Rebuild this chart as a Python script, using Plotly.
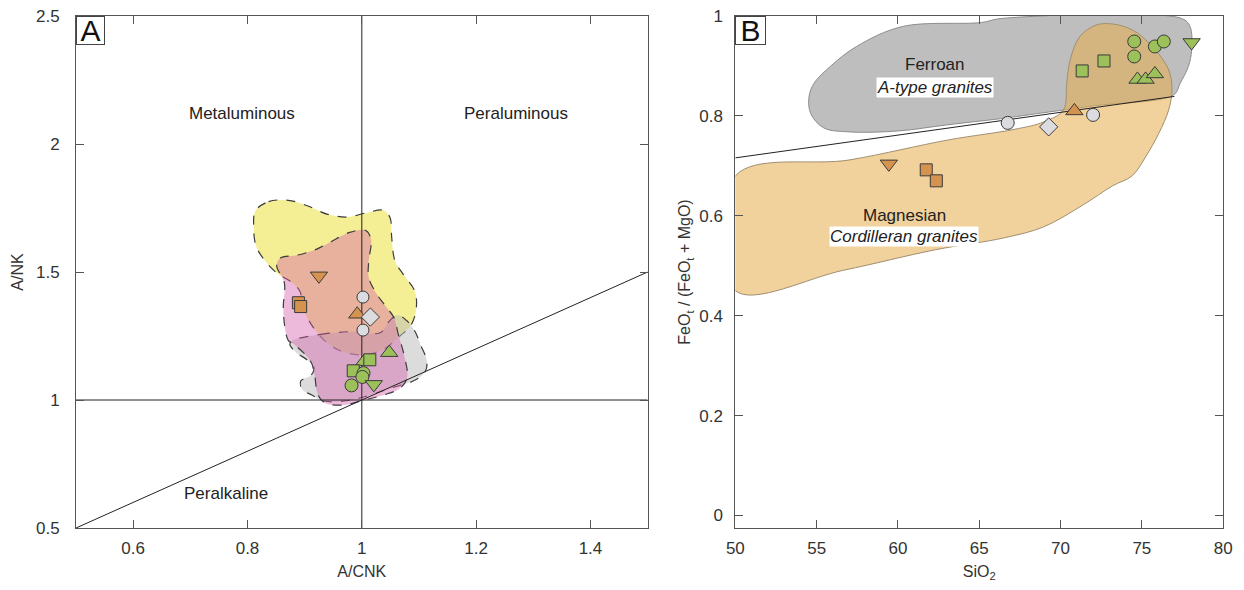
import plotly.graph_objects as go

# ---------------- Panel A data (A/CNK vs A/NK) ----------------
yellow_x = [0.8138, 0.8368, 0.8713, 0.9057, 0.9402, 0.9747, 1.0092, 1.0379, 1.0494, 1.0523, 1.0580, 1.0724, 1.0925, 1.0954,
            1.0868, 1.0667, 1.0379, 1.0034, 0.9632, 0.9345, 0.9115, 0.8971, 0.8914, 0.8741, 0.8540, 0.8310, 0.8149, 0.8109]
yellow_y = [1.7383, 1.7748, 1.7800, 1.7578, 1.7253, 1.7149, 1.7318, 1.7409, 1.7123, 1.6341, 1.5430, 1.4909, 1.4258, 1.3607,
            1.2956, 1.2500, 1.1979, 1.1758, 1.1914, 1.2331, 1.2956, 1.3607, 1.4258, 1.4649, 1.4909, 1.5430, 1.6016, 1.6732]
pink_x = [0.8511, 0.8569, 0.8885, 0.9201, 0.9460, 0.9776, 1.0063, 1.0161, 1.0121, 1.0121, 1.0264, 1.0437, 1.0563, 1.0638, 1.0736,
          1.0793, 1.0667, 1.0379, 0.9977, 0.9690, 0.9345, 0.9230, 0.9172, 0.9103, 0.8827, 0.8713, 0.8655, 0.8626, 0.8644]
pink_y = [1.5235, 1.5534, 1.5664, 1.5885, 1.6185, 1.6537, 1.6628, 1.6276, 1.5430, 1.4779, 1.4128, 1.3607, 1.3216, 1.2565, 1.1784,
          1.0872, 1.0456, 1.0195, 0.9961, 0.9805, 0.9896, 1.0221, 1.1003, 1.1523, 1.2148, 1.2331, 1.2826, 1.3607, 1.4584]
grey_x = [0.8799, 0.9287, 0.9804, 1.0322, 1.0483, 1.0621, 1.0793, 1.0942, 1.1023, 1.1138, 1.1109, 1.0925, 1.0494, 1.0034,
          0.9690, 0.9333, 0.9126, 0.8954, 0.8931, 0.9115, 0.9161, 0.9029, 0.8856, 0.8741]
grey_y = [1.2331, 1.2565, 1.2669, 1.2630, 1.3086, 1.3320, 1.3086, 1.2630, 1.2175, 1.1523, 1.1107, 1.0768, 1.0456, 1.0117,
          0.9961, 0.9961, 1.0195, 1.0417, 1.0742, 1.0977, 1.1263, 1.1589, 1.1849, 1.2175]

A_orange_tridown_x = [0.925]
A_orange_tridown_y = [1.485]
A_orange_square_x = [0.889, 0.893]
A_orange_square_y = [1.380, 1.365]
A_orange_triup_x = [0.992]
A_orange_triup_y = [1.335]
A_grey_circle_x = [1.002, 1.002]
A_grey_circle_y = [1.402, 1.273]
A_grey_diamond_x = [1.015]
A_grey_diamond_y = [1.324]
A_green_triup_x = [1.048, 1.004]
A_green_triup_y = [1.185, 1.150]
A_green_square_x = [0.985, 1.014]
A_green_square_y = [1.114, 1.157]
A_green_circle_x = [1.003, 1.001, 0.982]
A_green_circle_y = [1.105, 1.090, 1.057]
A_green_tridown_x = [1.021]
A_green_tridown_y = [1.061]

# ---------------- Panel B data (SiO2 vs FeOt/(FeOt+MgO)) ----------------
ferroan_x = [54.53, 54.83, 55.84, 57.45, 60.28, 65.13, 66.35, 77.45, 77.96, 78.06, 77.86, 77.35, 76.95, 72.0, 68.0, 66.7,
             63.0, 60.06, 57.03, 55.44, 54.63]
ferroan_y = [0.838, 0.865, 0.899, 0.939, 0.979, 0.987, 0.995, 0.995, 0.979, 0.932, 0.899, 0.865, 0.842, 0.820, 0.802, 0.796,
             0.782, 0.770, 0.768, 0.776, 0.805]
magnesian_x = [50.0, 57.05, 63.11, 67.15, 68.97, 70.18, 70.38, 70.59, 71.19, 72.2, 73.2, 74.42, 75.64, 76.65, 76.85, 76.65,
               76.04, 75.23, 74.4, 73.2, 71.39, 68.97, 66.55, 62.3, 56.65, 50.0]
magnesian_y = [0.680, 0.712, 0.752, 0.773, 0.788, 0.812, 0.865, 0.912, 0.959, 0.982, 0.984, 0.972, 0.939, 0.892, 0.852, 0.812,
               0.765, 0.718, 0.680, 0.660, 0.622, 0.578, 0.556, 0.532, 0.491, 0.450]
boundary_x = [50, 77]
boundary_y = [0.716, 0.839]

B_green_circle_x = [74.53, 75.80, 76.35, 74.53]
B_green_circle_y = [0.949, 0.939, 0.949, 0.919]
B_green_tridown_x = [78.06]
B_green_tridown_y = [0.947]
B_green_square_x = [72.67, 71.33]
B_green_square_y = [0.910, 0.890]
B_green_triup_x = [74.73, 75.23, 75.80]
B_green_triup_y = [0.873, 0.873, 0.884]
B_orange_triup_x = [70.85]
B_orange_triup_y = [0.810]
B_orange_tridown_x = [59.44]
B_orange_tridown_y = [0.704]
B_orange_square_x = [61.74, 62.36]
B_orange_square_y = [0.692, 0.670]
B_grey_circle_x = [72.0, 66.75]
B_grey_circle_y = [0.802, 0.786]
B_grey_diamond_x = [69.27]
B_grey_diamond_y = [0.778]

A_xticks = [0.6, 0.8, 1.0, 1.2, 1.4]
A_xticklabels = ["0.6", "0.8", "1", "1.2", "1.4"]
A_yticks = [0.5, 1.0, 1.5, 2.0, 2.5]
A_yticklabels = ["0.5", "1", "1.5", "2", "2.5"]
B_xticks = [50, 55, 60, 65, 70, 75, 80]
B_yticks = [0, 0.2, 0.4, 0.6, 0.8, 1.0]
B_yticklabels = ["0", "0.2", "0.4", "0.6", "0.8", "1"]

ORANGE = "#d69350"
GREEN = "#9cc05a"
LGREY = "#dcdce0"
EDGE = "#3a3a3a"
FONT = "Liberation Sans, Arial, sans-serif"

fig = go.Figure()

def region(x, y, fill, xa, ya, dash="dash", lc="#3c3c3c", lw=1.2, shape="spline"):
    fig.add_trace(go.Scatter(x=x + [x[0]], y=y + [y[0]], mode="lines", fill="toself", fillcolor=fill,
                             line=dict(color=lc, width=lw, dash=dash, shape=shape, smoothing=1.0),
                             xaxis=xa, yaxis=ya, hoverinfo="skip", showlegend=False))

def markers(x, y, sym, color, xa, ya, size=12):
    fig.add_trace(go.Scatter(x=x, y=y, mode="markers",
                             marker=dict(symbol=sym, size=size, color=color, line=dict(color=EDGE, width=1)),
                             xaxis=xa, yaxis=ya, showlegend=False))

def line(x, y, xa, ya, color="#222", width=1):
    fig.add_trace(go.Scatter(x=x, y=y, mode="lines", line=dict(color=color, width=width),
                             xaxis=xa, yaxis=ya, hoverinfo="skip", showlegend=False))

# Panel A
region(yellow_x, yellow_y, "rgba(235,225,60,0.55)", "x", "y")
region(grey_x, grey_y, "rgba(185,185,185,0.5)", "x", "y")
region(pink_x, pink_y, "rgba(215,90,170,0.42)", "x", "y")
line([1, 1], [0.5, 2.5], "x", "y")
line([0.5, 1.5], [1, 1], "x", "y")
line([0.5, 1.5], [0.5, 1.5], "x", "y")
markers(A_orange_tridown_x, A_orange_tridown_y, "triangle-down", ORANGE, "x", "y", 15)
markers(A_orange_square_x, A_orange_square_y, "square", ORANGE, "x", "y", 12)
markers(A_orange_triup_x, A_orange_triup_y, "triangle-up", ORANGE, "x", "y", 15)
markers(A_grey_circle_x, A_grey_circle_y, "circle", LGREY, "x", "y", 12)
markers(A_grey_diamond_x, A_grey_diamond_y, "diamond", LGREY, "x", "y", 14)
markers(A_green_triup_x, A_green_triup_y, "triangle-up", GREEN, "x", "y", 15)
markers(A_green_square_x, A_green_square_y, "square", GREEN, "x", "y", 12)
markers(A_green_circle_x, A_green_circle_y, "circle", GREEN, "x", "y", 13)
markers(A_green_tridown_x, A_green_tridown_y, "triangle-down", GREEN, "x", "y", 15)

# Panel B
region(ferroan_x, ferroan_y, "rgb(190,190,190)", "x2", "y2", dash="solid", lc="#8c8c8c", lw=1)
region(magnesian_x, magnesian_y, "rgba(230,172,75,0.55)", "x2", "y2", dash="solid", lc="#a08f70", lw=1)
line(boundary_x, boundary_y, "x2", "y2")
markers(B_green_circle_x, B_green_circle_y, "circle", GREEN, "x2", "y2", 13)
markers(B_green_tridown_x, B_green_tridown_y, "triangle-down", GREEN, "x2", "y2", 15)
markers(B_green_square_x, B_green_square_y, "square", GREEN, "x2", "y2", 12)
markers(B_green_triup_x, B_green_triup_y, "triangle-up", GREEN, "x2", "y2", 15)
markers(B_orange_triup_x, B_orange_triup_y, "triangle-up", ORANGE, "x2", "y2", 15)
markers(B_orange_tridown_x, B_orange_tridown_y, "triangle-down", ORANGE, "x2", "y2", 15)
markers(B_orange_square_x, B_orange_square_y, "square", ORANGE, "x2", "y2", 12)
markers(B_grey_circle_x, B_grey_circle_y, "circle", LGREY, "x2", "y2", 13)
markers(B_grey_diamond_x, B_grey_diamond_y, "diamond", LGREY, "x2", "y2", 14)

W = 1244.0
axis_common = dict(showgrid=False, zeroline=False, showline=True, linecolor="#555", linewidth=1, mirror="ticks",
                   ticks="inside", ticklen=8, tickcolor="#555", tickfont=dict(family=FONT, size=17, color="#333"))

fig.update_layout(
    width=1244, height=590, plot_bgcolor="white", paper_bgcolor="white",
    margin=dict(l=0, r=0, t=16, b=62), showlegend=False,
    font=dict(family=FONT, color="#222"),
    xaxis=dict(domain=[68 / W, 648 / W], range=[0.5, 1.5], tickvals=A_xticks, ticktext=A_xticklabels,
               ticklabelstandoff=5,
               title=dict(text="A/CNK", font=dict(size=16, color="#333"), standoff=8), **axis_common),
    yaxis=dict(domain=[0, 1], range=[0.5, 2.5], tickvals=A_yticks, ticktext=A_yticklabels,
               ticklabelstandoff=12,
               title=dict(text="A/NK", font=dict(size=16, color="#333"), standoff=8), **axis_common),
    xaxis2=dict(domain=[737 / W, 1232 / W], range=[50, 80], tickvals=B_xticks, anchor="y2",
                ticklabelstandoff=5,
                title=dict(text="SiO<sub>2</sub>", font=dict(size=16, color="#333"), standoff=8), **axis_common),
    yaxis2=dict(domain=[0, 1], range=[-0.025, 1.0], tickvals=B_yticks, ticktext=B_yticklabels, anchor="x2",
                ticklabelstandoff=8,
                title=dict(text="FeO<sub>t</sub> / (FeO<sub>t</sub> + MgO)", font=dict(size=16, color="#333"), standoff=4),
                **axis_common),
)

ann = [
    dict(text="Metaluminous", x=0.79, y=2.12, xref="x", yref="y", font=dict(size=17)),
    dict(text="Peraluminous", x=1.27, y=2.12, xref="x", yref="y", font=dict(size=17)),
    dict(text="Peralkaline", x=0.762, y=0.633, xref="x", yref="y", font=dict(size=17)),
    dict(text="Ferroan", x=62.3, y=0.902, xref="x2", yref="y2", font=dict(size=17)),
    dict(text="<i>A-type granites</i>", x=62.3, y=0.856, xref="x2", yref="y2", font=dict(size=17),
         bgcolor="white", borderpad=0),
    dict(text="Magnesian", x=60.4, y=0.600, xref="x2", yref="y2", font=dict(size=17)),
    dict(text="<i>Cordilleran granites</i>", x=60.4, y=0.558, xref="x2", yref="y2", font=dict(size=17),
         bgcolor="white", borderpad=0),
    dict(text="A", x=68 / W, y=1.0, xref="paper", yref="paper", xanchor="left", yanchor="top",
         font=dict(size=30, color="#111"), bgcolor="white", bordercolor="#444", borderwidth=1,
         width=27, height=27, borderpad=0),
    dict(text="B", x=737 / W, y=1.0, xref="paper", yref="paper", xanchor="left", yanchor="top",
         font=dict(size=30, color="#111"), bgcolor="white", bordercolor="#444", borderwidth=1,
         width=29, height=27, borderpad=0),
]
for a in ann:
    a.setdefault("showarrow", False)
    fig.add_annotation(**a)

fig.write_html("out.html")
